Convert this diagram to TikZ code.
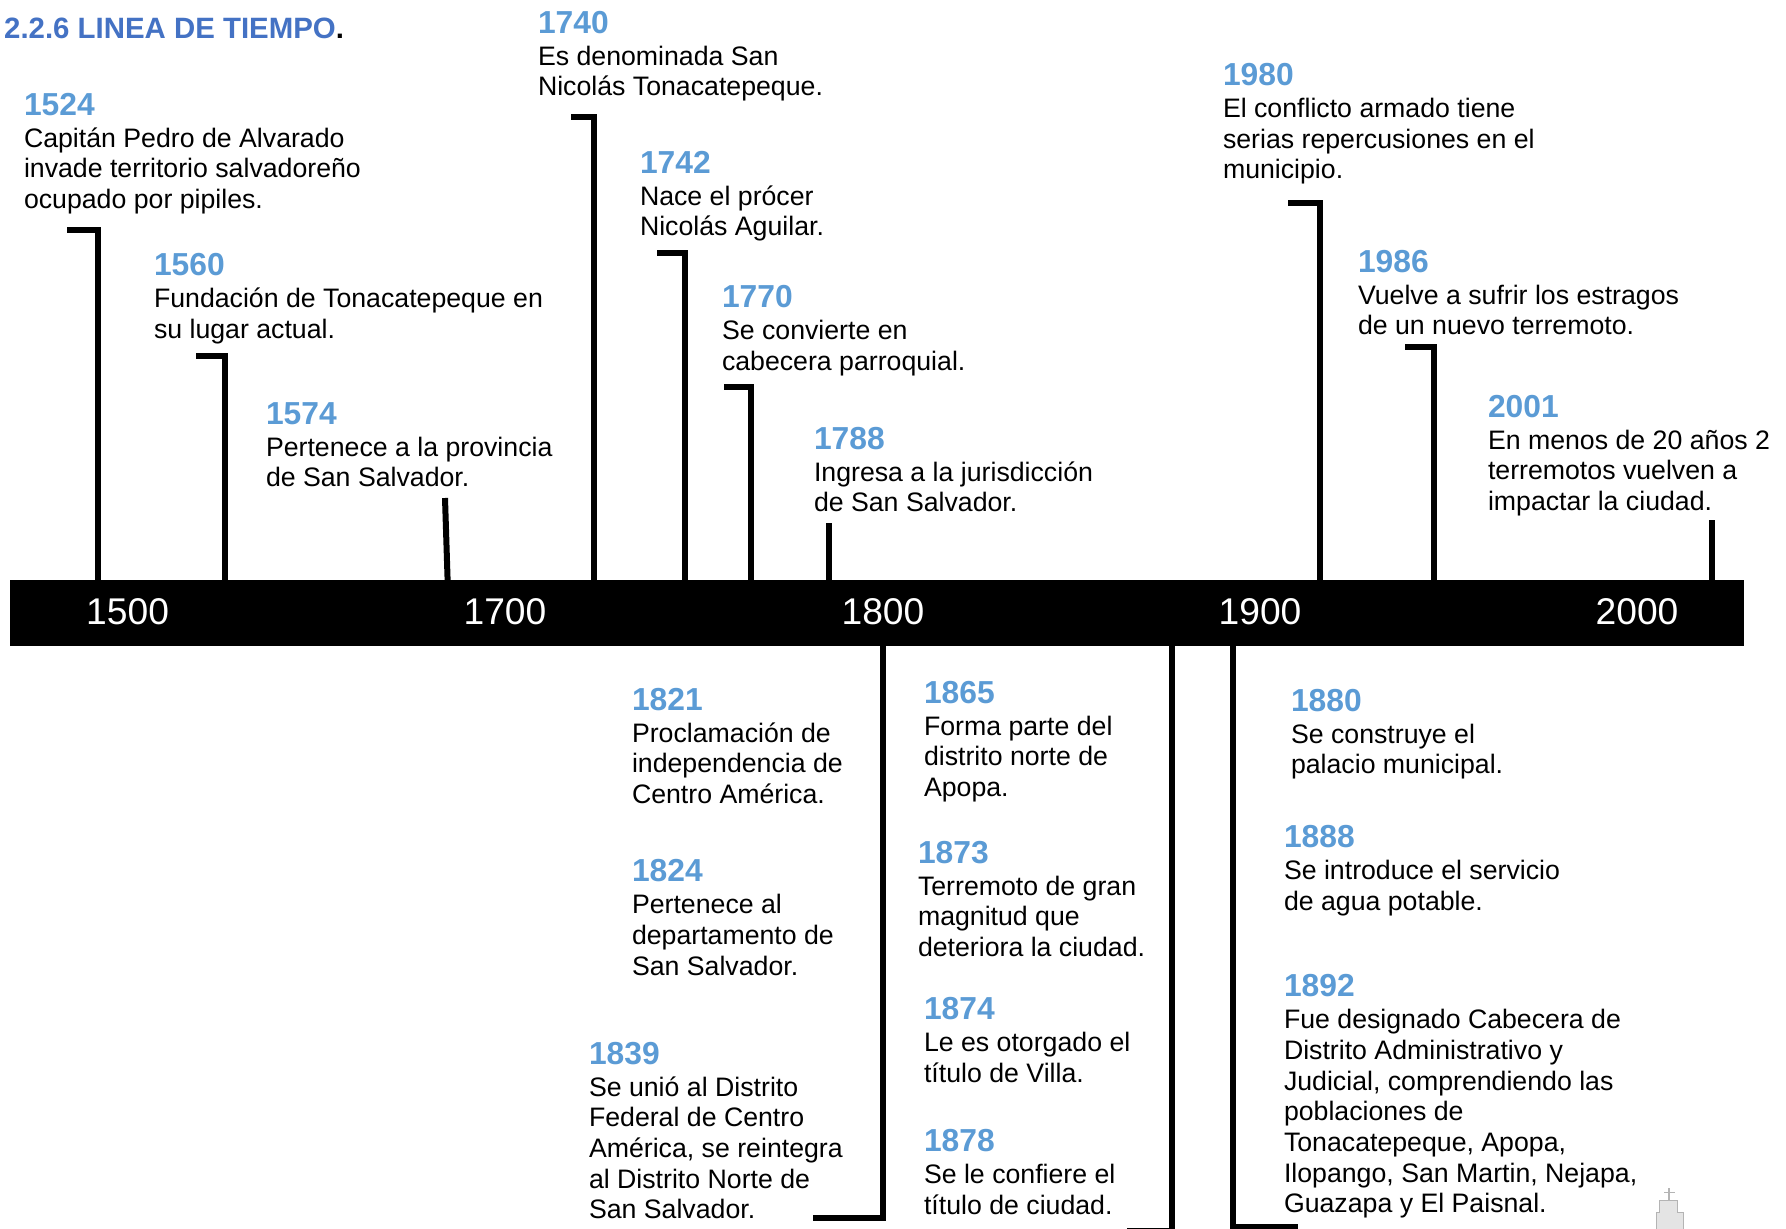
\documentclass[tikz,border=0pt]{standalone}
\usepackage{fontspec}
\setmainfont{Liberation Sans}
\definecolor{yearblue}{HTML}{5B9BD5}
\definecolor{titleblue}{HTML}{4472C4}
\definecolor{churchfill}{HTML}{E4E4E4}
\definecolor{churchline}{HTML}{B4B4B4}
\tikzset{
  evt/.style={anchor=north west,inner sep=0pt,outer sep=0pt,align=left,
    font=\fontsize{26.7}{30.65}\selectfont},
  stem/.style={line width=6pt,line cap=butt,line join=miter,black},
  axislabel/.style={text=white,inner sep=0pt,font=\fontsize{37.2}{40}\selectfont},
  church/.style={fill=churchfill,draw=churchline,line width=1pt},
}
\newcommand{\evt}[5]{\node[evt] (#1) at (#2,#3-22.8) {{\fontsize{31.8}{30.65}\selectfont\bfseries\color{yearblue}\rule{0pt}{22.8pt}#4}\\[1.5pt]#5};}
\begin{document}
\begin{tikzpicture}[x=1pt,y=-1pt]
\useasboundingbox (0,0) rectangle (1786,1229);
\fill[white] (0,0) rectangle (1786,1229);
\clip (0,0) rectangle (1786,1229);
\node[anchor=base west,inner sep=0pt,font=\fontsize{29.4}{32}\selectfont\bfseries] (title) at (4,38) {\textcolor{titleblue}{2.2.6 LINEA DE TIEMPO}.};
% axis
\node[fill=black,minimum width=1734pt,minimum height=66pt,inner sep=0pt,anchor=north west] (axis) at (10,580) {};
\node[axislabel] (a1500) at (127.6,611.6) {1500};
\node[axislabel] (a1700) at (505,611.6) {1700};
\node[axislabel] (a1800) at (883,611.6) {1800};
\node[axislabel] (a1900) at (1260,611.6) {1900};
\node[axislabel] (a2000) at (1637,611.6) {2000};
% events
\evt{e1740}{538}{33}{1740}{Es denominada San\\Nicolás Tonacatepeque.}
\evt{e1980}{1223}{85.4}{1980}{El conflicto armado tiene\\serias repercusiones en el\\municipio.}
\evt{e1524}{24}{115}{1524}{Capitán Pedro de Alvarado\\invade territorio salvadoreño\\ocupado por pipiles.}
\evt{e1742}{640}{173}{1742}{Nace el prócer\\Nicolás Aguilar.}
\evt{e1560}{154}{275.6}{1560}{Fundación de Tonacatepeque en\\su lugar actual.}
\evt{e1986}{1358}{272}{1986}{Vuelve a sufrir los estragos\\de un nuevo terremoto.}
\evt{e1770}{722}{307.5}{1770}{Se convierte en\\cabecera parroquial.}
\evt{e2001}{1488}{417}{2001}{En menos de 20 años 2\\terremotos vuelven a\\impactar la ciudad.}
\evt{e1574}{266}{424}{1574}{Pertenece a la provincia\\de San Salvador.}
\evt{e1788}{814}{449}{1788}{Ingresa a la jurisdicción\\de San Salvador.}
\evt{e1821}{632}{710}{1821}{Proclamación de\\independencia de\\Centro América.}
\evt{e1865}{924}{703}{1865}{Forma parte del\\distrito norte de\\Apopa.}
\evt{e1880}{1291}{711}{1880}{Se construye el\\palacio municipal.}
\evt{e1888}{1284}{847.6}{1888}{Se introduce el servicio\\de agua potable.}
\evt{e1873}{918}{863}{1873}{Terremoto de gran\\magnitud que\\deteriora la ciudad.}
\evt{e1824}{632}{881.8}{1824}{Pertenece al\\departamento de\\San Salvador.}
\evt{e1892}{1284}{996.8}{1892}{Fue designado Cabecera de\\Distrito Administrativo y\\Judicial, comprendiendo las\\poblaciones de\\Tonacatepeque, Apopa,\\Ilopango, San Martin, Nejapa,\\Guazapa y El Paisnal.}
\evt{e1874}{924}{1019.4}{1874}{Le es otorgado el\\título de Villa.}
\evt{e1839}{589}{1064}{1839}{Se unió al Distrito\\Federal de Centro\\América, se reintegra\\al Distrito Norte de\\San Salvador.}
\evt{e1878}{924}{1151.8}{1878}{Se le confiere el\\título de ciudad.}
% connector free ends
\coordinate (c1524) at (67,229.5);
\coordinate (c1560) at (196,356);
\coordinate (c1574) at (445,498);
\coordinate (c1740) at (571,117);
\coordinate (c1742) at (657,253);
\coordinate (c1770) at (724,387);
\coordinate (c1788) at (829,523);
\coordinate (c1980) at (1288,203);
\coordinate (c1986) at (1405,347);
\coordinate (c2001) at (1712,520);
\coordinate (c1800) at (813,1218);
\coordinate (c1870) at (1127,1231);
\coordinate (c1900) at (1298,1227);
% stems above
\draw[stem] (c1524) -| (98,580);
\draw[stem] (c1560) -| (225,580);
\draw[stem] (c1574) -- (447.6,580);
\draw[stem] (c1740) -| (594,580);
\draw[stem] (c1742) -| (685,580);
\draw[stem] (c1770) -| (751,580);
\draw[stem] (c1788) -- (829,580);
\draw[stem] (c1980) -| (1320,580);
\draw[stem] (c1986) -| (1434,580);
\draw[stem] (c2001) -- (1712,580);
% stems below
\draw[stem] (883,646) |- (c1800);
\draw[stem] (1172,646) |- (c1870);
\draw[stem] (1233,646) |- (c1900);
% church
\draw[churchline,line width=1.4pt] (1669,1188) -- (1669,1200) (1664,1192.5) -- (1675,1192.5);
\draw[church] (1656,1230) -- (1656,1212) -- (1659,1212) -- (1659,1200) -- (1677,1200) -- (1677,1212) -- (1683,1212) -- (1683,1230) -- cycle;
\end{tikzpicture}
\end{document}
